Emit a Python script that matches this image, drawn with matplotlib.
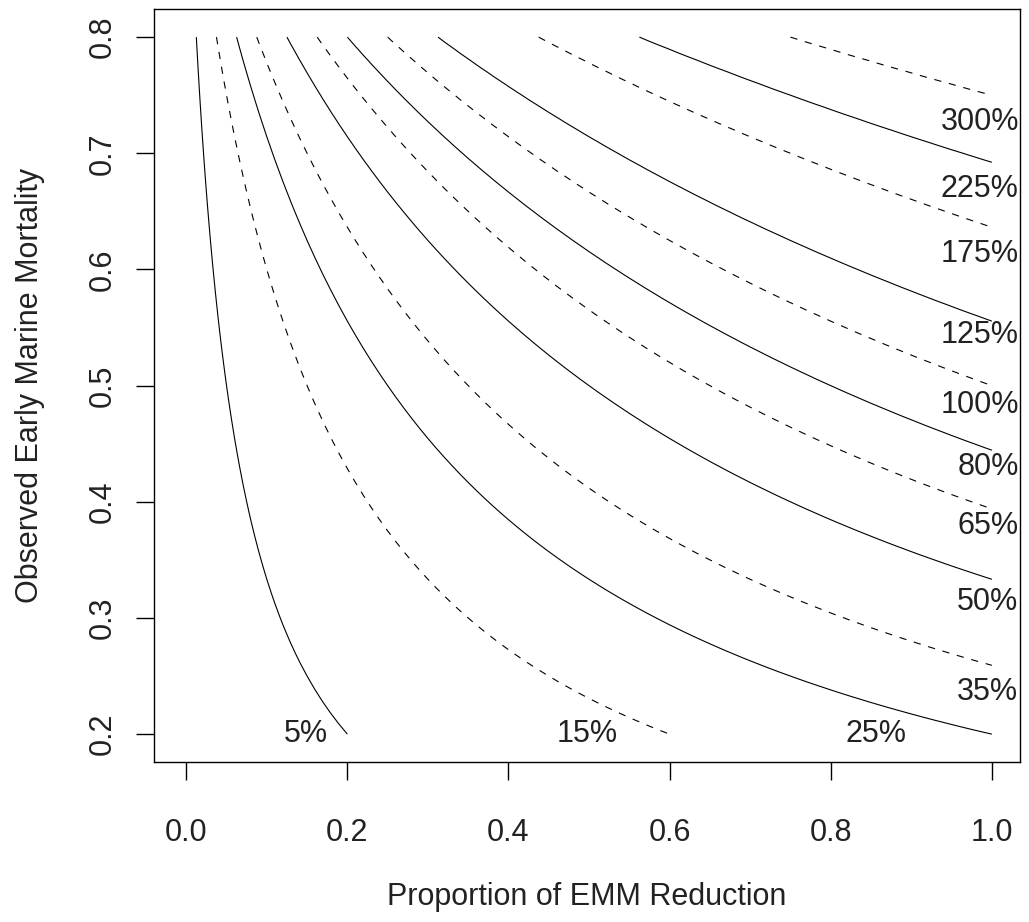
import numpy as np
import matplotlib
matplotlib.use("Agg")
import matplotlib.pyplot as plt

# grid of the contour surface (reduction in EMM vs observed EMM)
reduction = np.linspace(0.0, 1.0, 101)
emm = np.linspace(0.2, 0.8, 61)

# contour levels (% increase in survival) and their label positions
levels = [5, 15, 25, 35, 50, 65, 80, 100, 125, 175, 225, 300]
label_x = [0.148, 0.498, 0.856, 0.995, 0.995, 0.995, 0.995, 0.985, 0.985, 0.985, 0.985, 0.985]
label_y = [0.200, 0.200, 0.200, 0.236, 0.314, 0.379, 0.430, 0.483, 0.544, 0.613, 0.669, 0.727]

xticks = [0.0, 0.2, 0.4, 0.6, 0.8, 1.0]
yticks = [0.2, 0.3, 0.4, 0.5, 0.6, 0.7, 0.8]

plt.rcParams['font.family'] = ['Liberation Sans', 'DejaVu Sans']
plt.rcParams['font.size'] = 22

R, M = np.meshgrid(reduction, emm)
Z = R * M / (1 - M) * 100

fig = plt.figure(figsize=(10.29, 9.22), dpi=100)
ax = fig.add_axes([0.1497, 0.1735, 0.8416, 0.8165])

styles = ['solid' if i % 2 == 0 else (0, (6.5, 7)) for i in range(len(levels))]
ax.contour(R, M, Z, levels=levels, colors='black', linewidths=0.8,
           linestyles=styles)

for lv, lx, ly in zip(levels, label_x, label_y):
    ax.text(lx, ly, "{0}%".format(lv), ha='center', va='center',
            color='#222222', fontsize=22)

ax.set_xlim(-0.04, 1.035)
ax.set_ylim(0.176, 0.824)
ax.set_xticks(xticks)
ax.set_xticklabels(["{0:.1f}".format(t) for t in xticks])
ax.set_yticks(yticks)
ax.set_yticklabels(["{0:.1f}".format(t) for t in yticks], rotation=90, va='center')
ax.tick_params(length=13, width=1, color='black', labelcolor='#222222')
ax.tick_params(axis='x', pad=27)
ax.tick_params(axis='y', pad=13)
for sp in ax.spines.values():
    sp.set_linewidth(1)

ax.set_xlabel("Proportion of EMM Reduction", labelpad=25, color='#222222')
ax.set_ylabel("Observed Early Marine Mortality", labelpad=31, color='#222222')

fig.savefig("out.png", dpi=100)
